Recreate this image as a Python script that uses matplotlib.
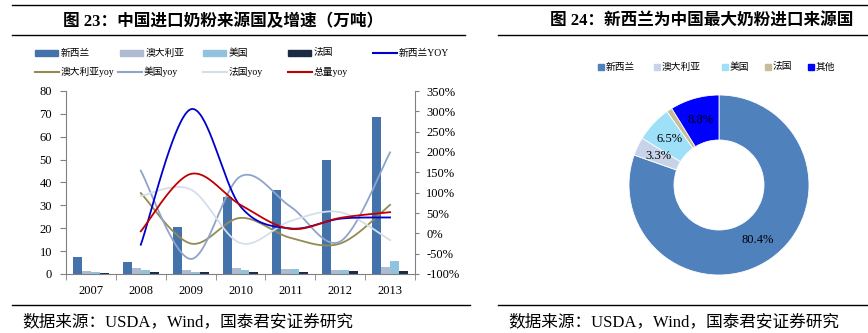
import numpy as np
import matplotlib
matplotlib.use("Agg")
import matplotlib.pyplot as plt
from matplotlib.lines import Line2D
from matplotlib.patches import Rectangle

# ---- CONFIG ----
W, H = 868, 333
FONT = ['Liberation Serif', 'Noto Sans CJK SC']
plt.rcParams['font.family'] = FONT

# ---- DATA ----
years = ['2007', '2008', '2009', '2010', '2011', '2012', '2013']
nz = [7.3, 5.2, 20.7, 33.7, 36.8, 49.7, 68.8]
au = [1.5, 2.6, 1.9, 2.6, 2.3, 1.9, 2.9]
us = [0.9, 1.9, 0.9, 1.7, 2.3, 1.9, 5.8]
fr = [0.6, 0.7, 1.0, 0.7, 0.9, 1.3, 1.2]

# yoy (%), 2008-2013
nz_yoy = [-28, 305, 66, 12, 36, 39]
au_yoy = [99, -25, 38, -11, -25, 70]
us_yoy = [154, -63, 140, 66, -20, 199]
fr_yoy = [92, 108, -24, 30, 52, -17]
total_yoy = [5, 146, 70, 11, 38, 52]

share_names = ['新西兰', '澳大利亚', '美国', '法国', '其他']
share = [80.4, 3.3, 6.5, 1.0, 8.8]

# ---- COLORS ----
c_nz, c_au, c_us, c_fr = '#4472AA', '#AEBBD0', '#91C3DE', '#1C2B45'
c_nzy, c_auy, c_usy, c_fry, c_tot = '#0000CC', '#948A54', '#8FA4C9', '#D5DEEB', '#C00000'
pie_colors = ['#4F81BD', '#C6D3E9', '#9DE0F7', '#C4BD97', '#0000FF']
grey = '#808080'


def fx(x):
    return x / W


def fy(y):
    return 1 - y / H


# Excel-like smoothed line (cubic bezier through the points)
def smooth(x, y, n=40):
    x = np.asarray(x, float)
    y = np.asarray(y, float)
    xp = np.r_[x[0], x, x[-1]]
    yp = np.r_[y[0], y, y[-1]]
    t = np.linspace(0, 1, n)[:, None]
    out = []
    for i in range(len(x) - 1):
        p0 = np.array([x[i], y[i]])
        p3 = np.array([x[i + 1], y[i + 1]])
        p1 = p0 + (np.array([xp[i + 2], yp[i + 2]]) - np.array([xp[i], yp[i]])) / 6
        p2 = p3 - (np.array([xp[i + 3], yp[i + 3]]) - np.array([xp[i + 1], yp[i + 1]])) / 6
        seg = (1 - t) ** 3 * p0 + 3 * (1 - t) ** 2 * t * p1 + 3 * (1 - t) * t ** 2 * p2 + t ** 3 * p3
        out.append(seg)
    out = np.vstack(out)
    return out[:, 0], out[:, 1]


fig = plt.figure(figsize=(W / 100, H / 100), dpi=100)

# ---- DECORATION LINES ----
for (x0, x1, y) in [(12, 868, 5), (12, 465, 35), (498, 868, 35), (12, 470, 305), (498, 868, 305)]:
    fig.add_artist(Line2D([fx(x0), fx(x1)], [fy(y), fy(y)], transform=fig.transFigure,
                          color='black', lw=1.0))

fig.text(fx(223), fy(22), '图 23：中国进口奶粉来源国及增速（万吨）', ha='center', va='center',
         fontsize=12, fontweight='bold')
fig.text(fx(702), fy(22), '图 24：新西兰为中国最大奶粉进口来源国', ha='center', va='center',
         fontsize=12, fontweight='bold')
src = '数据来源：USDA，Wind，国泰君安证券研究'
fig.text(fx(22), fy(322), src, ha='left', va='center', fontsize=12)
fig.text(fx(508), fy(322), src, ha='left', va='center', fontsize=12)

# ---- LEFT: BAR + LINES ----
ax = fig.add_axes([fx(66), fy(274), 349 / W, 183 / H])
x = np.arange(len(years))
w = 0.18
for k, (vals, c) in enumerate([(nz, c_nz), (au, c_au), (us, c_us), (fr, c_fr)]):
    ax.bar(x + (k - 1.5) * w, vals, w, color=c, zorder=2)
ax.set_xlim(-0.5, 6.5)
ax.set_ylim(0, 80)
ax.set_yticks(range(0, 81, 10))
ax.set_xticks(x)
ax.set_xticklabels(years)
ax.set_xticks(np.arange(-0.5, 7, 1), minor=True)
ax.tick_params(axis='x', which='major', length=0, pad=8, labelsize=9)
ax.tick_params(axis='x', which='minor', length=4, color=grey)
ax.tick_params(axis='y', length=4, color=grey, labelsize=9, pad=6)
for s in ['top', 'right']:
    ax.spines[s].set_visible(False)
for s in ['left', 'bottom']:
    ax.spines[s].set_color(grey)

ax2 = ax.twinx()
xl = np.arange(1, 7)
for vals, c in [(au_yoy, c_auy), (us_yoy, c_usy), (fr_yoy, c_fry), (nz_yoy, c_nzy), (total_yoy, c_tot)]:
    sx, sy = smooth(xl, vals)
    ax2.plot(sx, sy, color=c, lw=1.3)
ax2.set_ylim(-100, 350)
ax2.set_yticks(range(-100, 351, 50))
ax2.set_yticklabels([f'{v}%' for v in range(-100, 351, 50)])
ax2.tick_params(axis='y', length=3, color=grey, labelsize=9, pad=5)
for s in ['top', 'left', 'bottom']:
    ax2.spines[s].set_visible(False)
ax2.spines['right'].set_color(grey)

# ---- LEFT LEGEND ----
leg_rows = [
    (53, [(35, 'bar', c_nz, '新西兰'), (120, 'bar', c_au, '澳大利亚'), (203, 'bar', c_us, '美国'),
          (288, 'bar', c_fr, '法国'), (373, 'line', c_nzy, '新西兰YOY')]),
    (72, [(35, 'line', c_auy, '澳大利亚yoy'), (118, 'line', c_usy, '美国yoy'),
          (203, 'line', c_fry, '法国yoy'), (288, 'line', c_tot, '总量yoy')]),
]
for y, items in leg_rows:
    for x0, kind, c, label in items:
        if kind == 'bar':
            fig.add_artist(Rectangle((fx(x0), fy(y + 3)), 23 / W, 6 / H, transform=fig.transFigure,
                                     color=c))
        else:
            fig.add_artist(Line2D([fx(x0), fx(x0 + 24)], [fy(y), fy(y)], transform=fig.transFigure,
                                  color=c, lw=1.5))
        fig.text(fx(x0 + 26), fy(y), label, ha='left', va='center', fontsize=7)

# ---- RIGHT: DONUT ----
axp = fig.add_axes([fx(719 - 90), fy(185 + 90), 180 / W, 180 / H])
axp.pie(share, colors=pie_colors, startangle=90, counterclock=False, radius=1,
        wedgeprops=dict(width=0.5, edgecolor='white', linewidth=0.6),
        autopct=lambda p: f'{p:.1f}%' if p > 2 else '', pctdistance=0.75,
        textprops=dict(fontsize=9, color='black'))
axp.set_xlim(-1, 1)
axp.set_ylim(-1, 1)
axp.set_aspect('equal')
axp.axis('off')

# ---- RIGHT LEGEND ----
for x0, c, label in zip([598, 654, 722, 765, 808], pie_colors, share_names):
    fig.add_artist(Rectangle((fx(x0), fy(70)), 6 / W, 6 / H, transform=fig.transFigure, color=c))
    fig.text(fx(x0 + 8), fy(67), label, ha='left', va='center', fontsize=7)

fig.savefig('out.png', dpi=100)
